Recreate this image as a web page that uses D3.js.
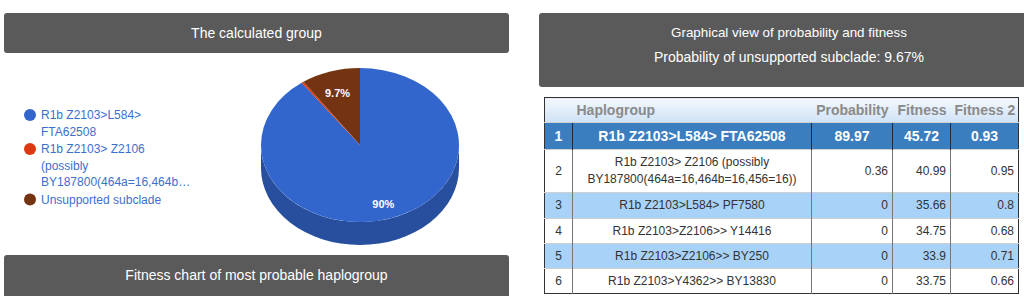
<!DOCTYPE html>
<html>
<head>
<meta charset="utf-8">
<script src="https://cdn.jsdelivr.net/npm/d3@7"></script>
<style>
  body { margin: 0; background: #fff; font-family: "Liberation Sans", Arial, sans-serif; width: 1024px; height: 296px; overflow: hidden; position: relative; }
  .hdr { position: absolute; background: #5a5a5a; color: #fff; border-radius: 3px; font-size: 14px; text-align: center; box-sizing: border-box; }
  #chart { position: absolute; left: 0; top: 0; }
  table { position: absolute; left: 544px; top: 97px; border-collapse: collapse; table-layout: fixed; border: 1px solid #333; font-size: 12px; color: #333; }
  td, th { padding: 0 4px; overflow: hidden; white-space: nowrap; }
  th { color: #8a8a8a; font-size: 14px; font-weight: bold; background: linear-gradient(#f4f8fd, #cfe2f6); }
  td { border-left: 1px solid #777; border-top: 1px solid #d0d0d0; }
  td:first-child { border-left: none; }
  tr.top td { background: #3a7ec0; color: #fff; font-weight: bold; font-size: 14px; text-align: center !important; border-left-color: #1c2c3c; }
  tr.alt td { background: #a9d2f8; }
</style>
</head>
<body>
<script>
// pie data
const groups = ['R1b Z2103>L584> FTA62508', 'R1b Z2103> Z2106 (possibly BY187800(464a=16,464b=16,456=16))', 'Unsupported subclade'];
const legendLines = [['R1b Z2103>L584>', 'FTA62508'], ['R1b Z2103> Z2106', '(possibly', 'BY187800(464a=16,464b\u2026'], ['Unsupported subclade']];
const shares = [89.97, 0.36, 9.67];
const pieLabels = ['90%', '', '9.7%'];

// table data
const ranks = [1, 2, 3, 4, 5, 6];
const haplogroups = ['R1b Z2103>L584> FTA62508', 'R1b Z2103> Z2106 (possibly\nBY187800(464a=16,464b=16,456=16))', 'R1b Z2103>L584> PF7580', 'R1b Z2103>Z2106>> Y14416', 'R1b Z2103>Z2106>> BY250', 'R1b Z2103>Y4362>> BY13830'];
const probability = [89.97, 0.36, 0, 0, 0, 0];
const fitness = [45.72, 40.99, 35.66, 34.75, 33.9, 33.75];
const fitness2 = [0.93, 0.95, 0.8, 0.68, 0.71, 0.66];
const columns = ['', 'Haplogroup', 'Probability', 'Fitness', 'Fitness 2'];

const colors = ['#3366cc', '#dc3912', '#743411'];
const sideColors = ['#284f9e', '#a82c0e', '#55260c'];

const body = d3.select('body');

body.append('div').attr('class', 'hdr')
    .style('left', '4px').style('top', '13px').style('width', '505px').style('height', '40px')
    .style('line-height', '40px').text('The calculated group');
body.append('div').attr('class', 'hdr')
    .style('left', '4px').style('top', '255px').style('width', '505px').style('height', '44px')
    .style('line-height', '40px').text('Fitness chart of most probable haplogroup');
const rh = body.append('div').attr('class', 'hdr')
    .style('left', '539px').style('top', '13px').style('width', '500px').style('height', '74px')
    .style('padding-top', '7px').style('line-height', '25px');
rh.append('div').style('font-size', '13.4px').text('Graphical view of probability and fitness');
rh.append('div').text('Probability of unsupported subclade: 9.67%');

const svg = body.append('svg').attr('id', 'chart').attr('width', 520).attr('height', 255);

// legend
const lineH = 16.5;
let ly = 115;
const legend = svg.append('g');
legendLines.forEach((lines, i) => {
  legend.append('circle').attr('cx', 30).attr('cy', ly).attr('r', 6).attr('fill', colors[i]);
  lines.forEach((t, j) => {
    legend.append('text').attr('x', 41).attr('y', ly + j * lineH).attr('dy', '0.35em')
          .attr('font-size', 12).attr('fill', '#3b70cc').text(t);
  });
  ly += lines.length * lineH + 1;
});

// 3D pie
const cx = 360, cy = 145, rx = 99, ry = 77, depth = 23;
const k = ry / rx;
const pie = d3.pie().sort(null).value(d => d)(shares);
const arc = d3.arc().innerRadius(0).outerRadius(rx);
const pg = svg.append('g').attr('transform', `translate(${cx},${cy}) scale(1,${k})`);
const dz = depth / k;

pie.forEach((p, i) => {
  const a0 = Math.max(p.startAngle, Math.PI / 2);
  const a1 = Math.min(p.endAngle, Math.PI * 3 / 2);
  if (a1 <= a0) return;
  const path = d3.path();
  const s0 = a0 - Math.PI / 2, s1 = a1 - Math.PI / 2;
  path.moveTo(rx * Math.cos(s0), rx * Math.sin(s0));
  path.arc(0, 0, rx, s0, s1, false);
  path.lineTo(rx * Math.cos(s1), rx * Math.sin(s1) + dz);
  path.arc(0, dz, rx, s1, s0, true);
  path.closePath();
  pg.append('path').attr('d', path.toString()).attr('fill', sideColors[i]);
});

pg.selectAll('path.slice').data(pie).enter().append('path')
  .attr('class', 'slice')
  .attr('d', arc)
  .attr('fill', (d, i) => colors[i]);

const labelArc = d3.arc().innerRadius(rx * 0.76).outerRadius(rx * 0.76);
svg.append('g').selectAll('text').data(pie).enter().append('text')
   .attr('x', d => cx + labelArc.centroid(d)[0])
   .attr('y', d => cy + 4 + labelArc.centroid(d)[1] * k)
   .attr('dy', '0.35em')
   .attr('text-anchor', 'middle')
   .attr('font-size', 11).attr('font-weight', 'bold')
   .attr('fill', '#fff')
   .text((d, i) => pieLabels[i]);

// table
const colW = [28, 239, 81, 58, 68];
const rowH = [27, 43, 26, 25, 25, 25];
const table = body.append('table').style('width', d3.sum(colW) + 'px');
const cg = table.append('colgroup');
colW.forEach(w => cg.append('col').style('width', w + 'px'));
const thead = table.append('tr').style('height', '25px');
columns.forEach((c, i) => thead.append('th').style('text-align', i === 1 ? 'left' : 'right').text(c));

const rows = ranks.map((r, i) => [r, haplogroups[i], probability[i], fitness[i], fitness2[i]]);
table.selectAll('tr.row').data(rows).enter().append('tr')
  .attr('class', (d, i) => 'row' + (i === 0 ? ' top' : (i % 2 === 0 ? ' alt' : '')))
  .style('height', (d, i) => rowH[i] + 'px')
  .selectAll('td').data(d => d).enter().append('td')
  .style('text-align', (d, j) => j < 2 ? 'center' : 'right')
  .style('line-height', '17px')
  .html(d => String(d).replace('\n', '<br>'));
</script>
</body>
</html>
